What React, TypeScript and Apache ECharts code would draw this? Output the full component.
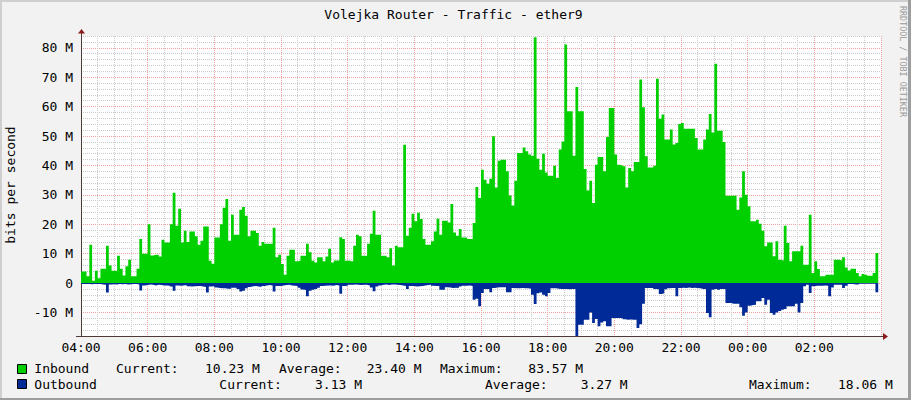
import React, { useEffect, useRef } from 'react';
import * as echarts from 'echarts';

const TITLE = 'Volejka Router - Traffic - ether9';
const Y_NAME = 'bits per second';
const WATERMARK = 'RRDTOOL / TOBI OETIKER';
const START_HOUR = 4;
const STEP_MIN = 5;
const SPAN_MIN = 1440;

// Mbit/s, one value per 5 minutes starting at 04:00
const inbound = [
  3.9, 3.9, 2.3, 13.0, 0.8, 4.2, 1.6, 4.9, 4.9, 12.7, 6.0, 4.2, 4.2, 9.3, 4.9, 2.6, 5.7, 7.9, 2.3, 2.3, 4.9, 15.0, 10.0, 10.0,
  20.0, 9.4, 9.6, 9.6, 9.0, 14.7, 13.8, 13.8, 20.0, 30.7, 19.5, 25.3, 13.8, 17.8, 14.0, 17.5, 17.5, 15.9, 13.0, 14.4, 19.2, 19.2, 7.6, 6.6,
  15.5, 15.5, 20.0, 25.6, 28.6, 14.4, 23.2, 16.4, 16.4, 24.9, 25.9, 22.9, 15.9, 17.8, 17.8, 17.0, 12.7, 14.0, 13.4, 13.4, 13.4, 18.8, 8.8, 9.6,
  6.5, 2.8, 9.3, 11.3, 11.3, 7.4, 7.6, 9.3, 9.3, 13.4, 10.5, 7.6, 7.0, 8.8, 8.8, 7.4, 9.0, 11.7, 7.0, 7.7, 7.7, 15.6, 15.0, 7.6,
  7.7, 7.4, 12.7, 16.4, 15.9, 9.3, 9.3, 13.4, 16.8, 24.6, 16.4, 16.4, 9.3, 9.3, 8.8, 11.8, 6.0, 12.7, 12.2, 12.2, 47.0, 16.1, 18.8, 23.6,
  21.0, 23.9, 21.8, 15.0, 13.0, 13.0, 14.2, 17.5, 21.9, 16.4, 21.2, 21.2, 20.6, 26.9, 17.2, 16.1, 18.4, 15.5, 15.5, 15.0, 15.0, 20.4, 32.7, 28.9,
  38.5, 35.1, 33.8, 35.5, 49.9, 32.5, 41.6, 41.9, 41.9, 38.0, 29.8, 26.4, 34.8, 44.2, 44.2, 46.1, 44.8, 43.7, 43.3, 83.57, 42.3, 38.5, 44.0, 37.6,
  36.5, 36.5, 39.9, 35.7, 45.4, 48.1, 81.1, 58.4, 58.4, 43.3, 66.7, 58.4, 58.4, 38.8, 31.5, 34.8, 27.2, 40.2, 42.9, 42.9, 38.0, 49.7, 59.5, 59.5,
  43.7, 40.2, 40.0, 39.7, 32.5, 39.1, 38.0, 41.2, 41.2, 69.2, 59.8, 43.1, 39.3, 39.3, 39.9, 69.5, 55.9, 57.3, 48.8, 48.8, 52.2, 47.1, 47.6, 54.1,
  54.4, 52.5, 52.5, 52.5, 52.5, 49.3, 45.4, 45.4, 48.8, 52.2, 57.5, 51.2, 74.6, 51.8, 51.8, 48.0, 29.7, 29.7, 29.7, 29.8, 24.9, 29.1, 38.0, 30.0,
  26.1, 21.0, 21.0, 21.5, 20.2, 17.8, 12.5, 13.8, 13.8, 9.1, 14.2, 7.9, 7.7, 19.5, 13.6, 7.4, 10.8, 10.8, 10.8, 12.7, 6.2, 6.2, 23.2, 3.4,
  7.4, 4.8, 2.3, 2.3, 2.8, 2.8, 2.8, 7.9, 7.9, 7.7, 8.8, 5.3, 4.3, 4.9, 4.9, 3.4, 2.3, 3.1, 2.8, 2.5, 2.5, 3.4, 10.23,
];

// Mbit/s (drawn below the zero line)
const outbound = [
  0.3, 0.3, 0.3, 0.4, 0.3, 0.3, 0.3, 0.5, 0.6, 3.2, 0.5, 0.4, 0.5, 0.3, 0.4, 0.3, 0.5, 0.4, 0.3, 0.3, 0.5, 2.5, 0.8, 0.7,
  0.5, 0.6, 0.8, 0.6, 0.7, 0.8, 0.8, 0.9, 1.2, 2.6, 0.8, 0.9, 0.8, 0.7, 1.1, 1.2, 1.1, 1.0, 1.0, 1.2, 1.3, 3.2, 1.2, 1.1,
  1.5, 1.7, 1.8, 1.8, 1.9, 1.9, 1.6, 1.6, 2.0, 2.9, 2.6, 1.8, 1.3, 1.1, 1.0, 1.2, 1.3, 1.0, 0.8, 0.7, 0.8, 2.9, 1.0, 1.0,
  0.8, 0.7, 0.6, 0.8, 0.9, 1.0, 1.6, 2.2, 2.4, 4.5, 2.6, 2.3, 2.0, 1.6, 1.0, 0.9, 0.8, 0.8, 0.9, 0.7, 0.8, 3.6, 1.0, 0.9,
  0.6, 0.6, 0.5, 0.6, 0.7, 0.6, 0.6, 0.8, 1.5, 2.8, 1.2, 0.8, 0.6, 0.5, 0.7, 0.5, 0.5, 0.6, 0.7, 0.8, 1.0, 2.0, 1.0, 1.0,
  1.2, 1.1, 1.0, 0.8, 0.7, 0.6, 0.9, 1.0, 1.0, 2.3, 2.3, 1.4, 1.5, 1.7, 1.6, 1.7, 1.2, 0.9, 0.9, 0.8, 1.0, 5.7, 5.3, 7.9,
  3.4, 2.0, 2.0, 3.1, 1.7, 1.5, 1.4, 1.4, 1.4, 3.1, 3.1, 1.7, 1.8, 1.8, 1.7, 1.8, 1.8, 1.9, 4.0, 7.1, 3.5, 3.2, 4.0, 4.5,
  3.4, 1.8, 1.8, 1.9, 2.0, 2.0, 2.0, 2.1, 2.0, 2.0, 18.06, 14.2, 14.2, 12.5, 12.5, 10.0, 13.6, 12.2, 14.7, 13.4, 13.0, 14.7, 14.7, 11.9,
  11.9, 11.9, 12.0, 12.3, 12.5, 12.4, 12.5, 12.5, 15.3, 14.0, 7.0, 1.7, 1.7, 1.7, 2.0, 2.1, 3.7, 3.5, 2.1, 1.8, 1.7, 1.7, 4.5, 1.7,
  1.6, 1.7, 1.5, 1.7, 1.6, 1.7, 1.8, 2.0, 2.0, 10.2, 11.6, 2.3, 2.0, 2.3, 2.0, 2.0, 6.8, 6.8, 7.0, 7.0, 7.0, 8.2, 11.1, 10.0,
  7.7, 7.5, 7.4, 6.2, 6.2, 5.1, 7.4, 5.7, 10.2, 10.8, 10.0, 9.5, 9.1, 8.8, 7.9, 7.9, 7.9, 7.0, 10.0, 6.8, 1.1, 0.6, 3.4, 1.1,
  0.9, 0.9, 0.9, 0.8, 0.9, 4.5, 1.5, 0.6, 0.6, 0.6, 1.7, 0.9, 0.3, 0.3, 0.5, 0.5, 0.2, 0.2, 0.2, 0.2, 0.2, 0.2, 3.13,
];

const seriesNames = ['Inbound', 'Outbound'];
const statLabels = ['Current:', 'Average:', 'Maximum:'];
const inboundStats = ['10.23 M', '23.40 M', '83.57 M'];
const outboundStats = ['3.13 M', '3.27 M', '18.06 M'];

const Y_MIN = -18;
const Y_MAX = 84;

const GREEN = '#00CF00';
const BLUE = '#002A97';
const MONO = '"DejaVu Sans Mono", monospace';
const MINOR = '#CACACA';
const MAJOR = '#F2A0A0';
const AXIS = '#4F3A3A';
const ARROW = '#8B1A1A';

function toPairs(vals: number[], sign: number) {
  const pts = vals.map((v, i) => [i * STEP_MIN, sign * v]);
  pts.push([vals.length * STEP_MIN, sign * vals[vals.length - 1]]);
  return pts;
}

function hhmm(v: number) {
  const h = (START_HOUR + Math.floor(v / 60)) % 24;
  const m = v % 60;
  return `${String(h).padStart(2, '0')}:${String(m).padStart(2, '0')}`;
}

function txt(x: number, y: number, text: string, extra: any = {}) {
  return {
    type: 'text',
    x,
    y,
    silent: true,
    ...extra.el,
    style: {
      text,
      font: extra.font || `13px ${MONO}`,
      fill: extra.fill || '#000',
      align: extra.align || 'left',
      textAlign: extra.align || 'left',
      verticalAlign: 'middle',
      textVerticalAlign: 'middle',
    },
  };
}

export default function App() {
  const ref = useRef<HTMLDivElement>(null);

  useEffect(() => {
    if (!ref.current) return;
    const chart = echarts.init(ref.current, undefined, { renderer: 'svg' });

    const statX1 = [116, 205, 279, 366.7, 440, 528.3];
    const statX2 = [219.3, 315, 485, 580.7, 749, 838];
    const row1 = 368.5;
    const row2 = 384;

    const legendTexts: any[] = [];
    [inboundStats, outboundStats].forEach((stats, r) => {
      const xs = r === 0 ? statX1 : statX2;
      const y = r === 0 ? row1 : row2;
      legendTexts.push(txt(34.3, y, seriesNames[r]));
      stats.forEach((s, k) => {
        legendTexts.push(txt(xs[k * 2], y, statLabels[k]));
        legendTexts.push(txt(xs[k * 2 + 1], y, s));
      });
    });

    const option: any = {
      animation: false,
      backgroundColor: '#F2F2F2',
      textStyle: { fontFamily: MONO },
      grid: {
        left: 81,
        right: 30,
        top: 36,
        bottom: 64,
        show: true,
        backgroundColor: '#FFFFFF',
        borderWidth: 0,
      },
      xAxis: {
        type: 'value',
        min: 0,
        max: SPAN_MIN,
        interval: 30,
        axisLine: { show: true, onZero: false, lineStyle: { color: AXIS, width: 1 } },
        axisTick: { show: false },
        axisLabel: {
          margin: 5,
          color: '#000',
          fontFamily: MONO,
          fontSize: 13,
          formatter: (v: number) => (v % 120 === 0 && v < SPAN_MIN ? hhmm(v) : ''),
        },
        splitLine: {
          show: true,
          lineStyle: { color: [MAJOR, MINOR, MINOR, MINOR], type: [1, 1], width: 1 },
        },
      },
      yAxis: {
        type: 'value',
        min: Y_MIN,
        max: Y_MAX,
        interval: 2,
        axisLine: { show: true, lineStyle: { color: AXIS, width: 1 } },
        axisTick: { show: false },
        axisLabel: {
          margin: 8,
          color: '#000',
          fontFamily: MONO,
          fontSize: 13,
          formatter: (v: number) => (v % 10 === 0 ? (v === 0 ? '0' : `${v} M`) : ''),
        },
        splitLine: {
          show: true,
          lineStyle: { color: [MINOR, MINOR, MINOR, MINOR, MAJOR], type: [1, 1], width: 1 },
        },
      },
      series: [
        {
          name: seriesNames[0],
          type: 'line',
          step: 'end',
          data: toPairs(inbound, 1),
          symbol: 'none',
          silent: true,
          lineStyle: { width: 0, color: GREEN },
          itemStyle: { color: GREEN },
          areaStyle: { color: GREEN, opacity: 1 },
          z: 2,
        },
        {
          name: seriesNames[1],
          type: 'line',
          step: 'end',
          data: toPairs(outbound, -1),
          symbol: 'none',
          silent: true,
          lineStyle: { width: 0, color: BLUE },
          itemStyle: { color: BLUE },
          areaStyle: { color: BLUE, opacity: 1 },
          z: 3,
        },
      ],
      graphic: [
        { type: 'rect', silent: true, shape: { x: 0, y: 0, width: 911, height: 2 }, style: { fill: '#CFCFCF' } },
        { type: 'rect', silent: true, shape: { x: 0, y: 0, width: 2, height: 400 }, style: { fill: '#CFCFCF' } },
        { type: 'rect', silent: true, shape: { x: 0, y: 398, width: 911, height: 2 }, style: { fill: '#9E9E9E' } },
        { type: 'rect', silent: true, shape: { x: 908, y: 0, width: 3, height: 400 }, style: { fill: '#9E9E9E' } },
        txt(453.5, 14, TITLE, { align: 'center' }),
        txt(10.5, 185, Y_NAME, { align: 'center', el: { rotation: Math.PI / 2 } }),
        txt(903, 61.5, WATERMARK, { align: 'center', font: `8.4px ${MONO}`, fill: '#9A9A9A', el: { rotation: -Math.PI / 2 } }),
        { type: 'line', silent: true, shape: { x1: 81.5, y1: 36, x2: 81.5, y2: 33 }, style: { stroke: AXIS, lineWidth: 1 } },
        { type: 'line', silent: true, shape: { x1: 76, y1: 336.5, x2: 81, y2: 336.5 }, style: { stroke: AXIS, lineWidth: 1 } },
        { type: 'line', silent: true, shape: { x1: 881, y1: 336.5, x2: 884, y2: 336.5 }, style: { stroke: AXIS, lineWidth: 1 } },
        { type: 'polygon', silent: true, shape: { points: [[78, 33.5], [85, 33.5], [81.5, 29]] }, style: { fill: ARROW } },
        { type: 'polygon', silent: true, shape: { points: [[883, 333], [883, 340], [888, 336.5]] }, style: { fill: ARROW } },
        { type: 'rect', silent: true, shape: { x: 17.5, y: 364.5, width: 9, height: 9 }, style: { fill: GREEN, stroke: '#000', lineWidth: 1 } },
        { type: 'rect', silent: true, shape: { x: 17.5, y: 379.5, width: 9, height: 9 }, style: { fill: BLUE, stroke: '#000', lineWidth: 1 } },
        ...legendTexts,
      ],
    };

    chart.setOption(option);
    return () => chart.dispose();
  }, []);

  return (
    <div
      ref={ref}
      style={{ position: 'absolute', left: 0, top: 0, width: 911, height: 400 }}
    />
  );
}
